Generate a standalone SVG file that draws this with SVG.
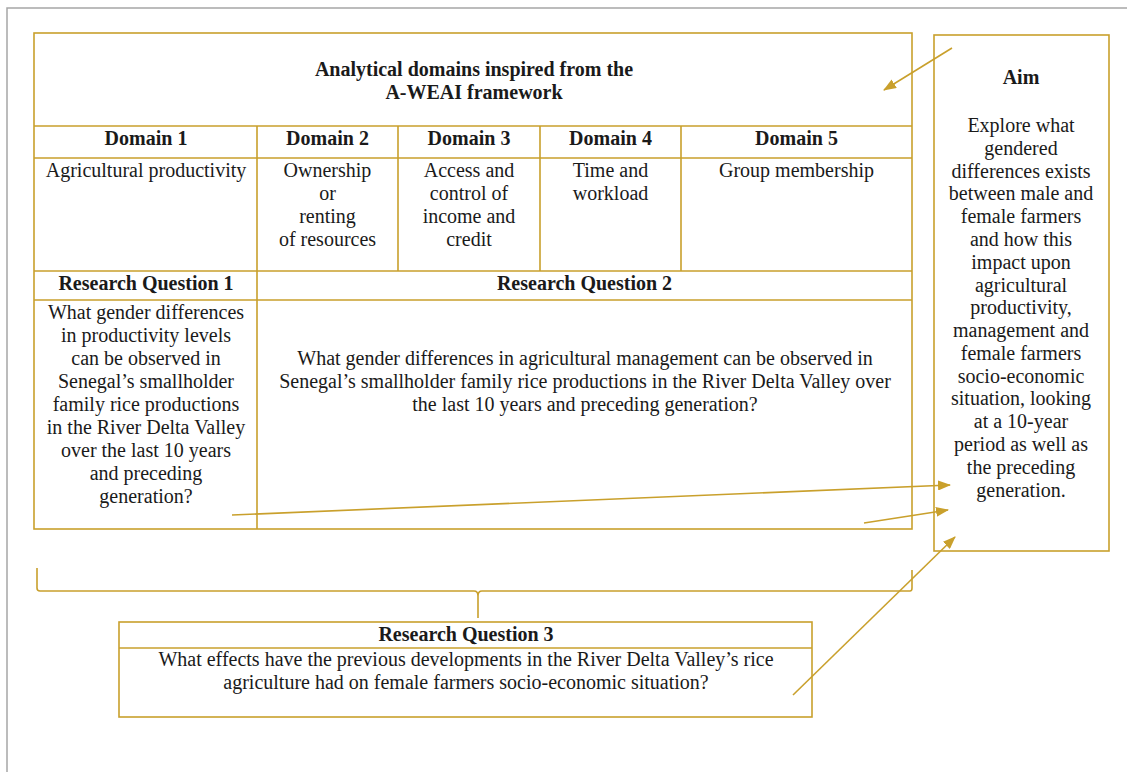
<svg xmlns="http://www.w3.org/2000/svg" width="1127" height="772" viewBox="0 0 1127 772">
<defs>
<style>
.b{fill:none;stroke:#C9A02C;stroke-width:1.6}
.c{fill:none;stroke:#C9A02C;stroke-width:1.6}
text{font-family:'Liberation Serif','Tinos','Times New Roman','DejaVu Serif',serif;font-size:20px;fill:#1a1a1a;text-anchor:middle}
.h{font-weight:bold}
</style>
<marker id="ah" viewBox="0 0 13 10" refX="12" refY="5" markerWidth="13" markerHeight="10" markerUnits="userSpaceOnUse" orient="auto"><path d="M0,0 L13,5 L0,10 z" fill="#C9A02C"/></marker>
</defs>
<rect width="1127" height="772" fill="#fff"/>
<path d="M7,772 V8 H1127" fill="none" stroke="#a6a6a6" stroke-width="1.5"/>

<g id="framework-table">
<rect class="b" x="34" y="33" width="878" height="496"/>
<path class="b" d="M34,126 H912 M34,158 H912 M34,271 H912 M34,300 H912 M257,126 V529 M398,126 V271 M540,126 V271 M681,126 V271"/>
<text class="h" x="474" y="76">Analytical domains inspired from the</text>
<text class="h" x="474" y="99">A-WEAI framework</text>
</g>

<g id="domain1">
<text class="h" x="146" y="145">Domain 1</text>
<text x="146" y="177">Agricultural productivity</text>
</g>
<g id="domain2">
<text class="h" x="327.5" y="145">Domain 2</text>
<text x="327.5" y="177">Ownership</text>
<text x="327.5" y="200">or</text>
<text x="327.5" y="223">renting</text>
<text x="327.5" y="246">of resources</text>
</g>
<g id="domain3">
<text class="h" x="469" y="145">Domain 3</text>
<text x="469" y="177">Access and</text>
<text x="469" y="200">control of</text>
<text x="469" y="223">income and</text>
<text x="469" y="246">credit</text>
</g>
<g id="domain4">
<text class="h" x="610.5" y="145">Domain 4</text>
<text x="610.5" y="177">Time and</text>
<text x="610.5" y="200">workload</text>
</g>
<g id="domain5">
<text class="h" x="796.5" y="145">Domain 5</text>
<text x="796.5" y="177">Group membership</text>
</g>

<g id="rq1">
<text class="h" x="146" y="290">Research Question 1</text>
<text x="146" y="319">What gender differences</text>
<text x="146" y="342">in productivity levels</text>
<text x="146" y="365">can be observed in</text>
<text x="146" y="388">Senegal’s smallholder</text>
<text x="146" y="411">family rice productions</text>
<text x="146" y="434">in the River Delta Valley</text>
<text x="146" y="457">over the last 10 years</text>
<text x="146" y="480">and preceding</text>
<text x="146" y="503">generation?</text>
</g>

<g id="rq2">
<text class="h" x="584.5" y="290">Research Question 2</text>
<text x="585" y="365">What gender differences in agricultural management can be observed in</text>
<text x="585" y="388">Senegal’s smallholder family rice productions in the River Delta Valley over</text>
<text x="585" y="411">the last 10 years and preceding generation?</text>
</g>

<g id="aim">
<rect class="b" x="934" y="35" width="175" height="516"/>
<text class="h" x="1021" y="84">Aim</text>
<text x="1021" y="132">Explore what</text>
<text x="1021" y="155">gendered</text>
<text x="1021" y="178">differences exists</text>
<text x="1021" y="200">between male and</text>
<text x="1021" y="223">female farmers</text>
<text x="1021" y="246">and how this</text>
<text x="1021" y="269">impact upon</text>
<text x="1021" y="292">agricultural</text>
<text x="1021" y="314">productivity,</text>
<text x="1021" y="337">management and</text>
<text x="1021" y="360">female farmers</text>
<text x="1021" y="383">socio-economic</text>
<text x="1021" y="405">situation, looking</text>
<text x="1021" y="428">at a 10-year</text>
<text x="1021" y="451">period as well as</text>
<text x="1021" y="474">the preceding</text>
<text x="1021" y="497">generation.</text>
</g>

<g id="rq3">
<rect class="b" x="119" y="622" width="693" height="95"/>
<path class="b" d="M119,648 H812"/>
<text class="h" x="466" y="641">Research Question 3</text>
<text x="466" y="666">What effects have the previous developments in the River Delta Valley’s rice</text>
<text x="466" y="689">agriculture had on female farmers socio-economic situation?</text>
</g>

<g id="connectors">
<path class="c" d="M37,568 V588 Q37,591 40,591 H474 Q478,591 478,596 V618 M478,596 Q478,591 482,591 H910 Q912,591 912,588 V570"/>
<line class="c" x1="952" y1="48" x2="884" y2="90" marker-end="url(#ah)"/>
<line class="c" x1="232" y1="515" x2="950" y2="485" marker-end="url(#ah)"/>
<line class="c" x1="864" y1="523" x2="948" y2="510" marker-end="url(#ah)"/>
<line class="c" x1="793" y1="695" x2="955" y2="537" marker-end="url(#ah)"/>
</g>
</svg>
